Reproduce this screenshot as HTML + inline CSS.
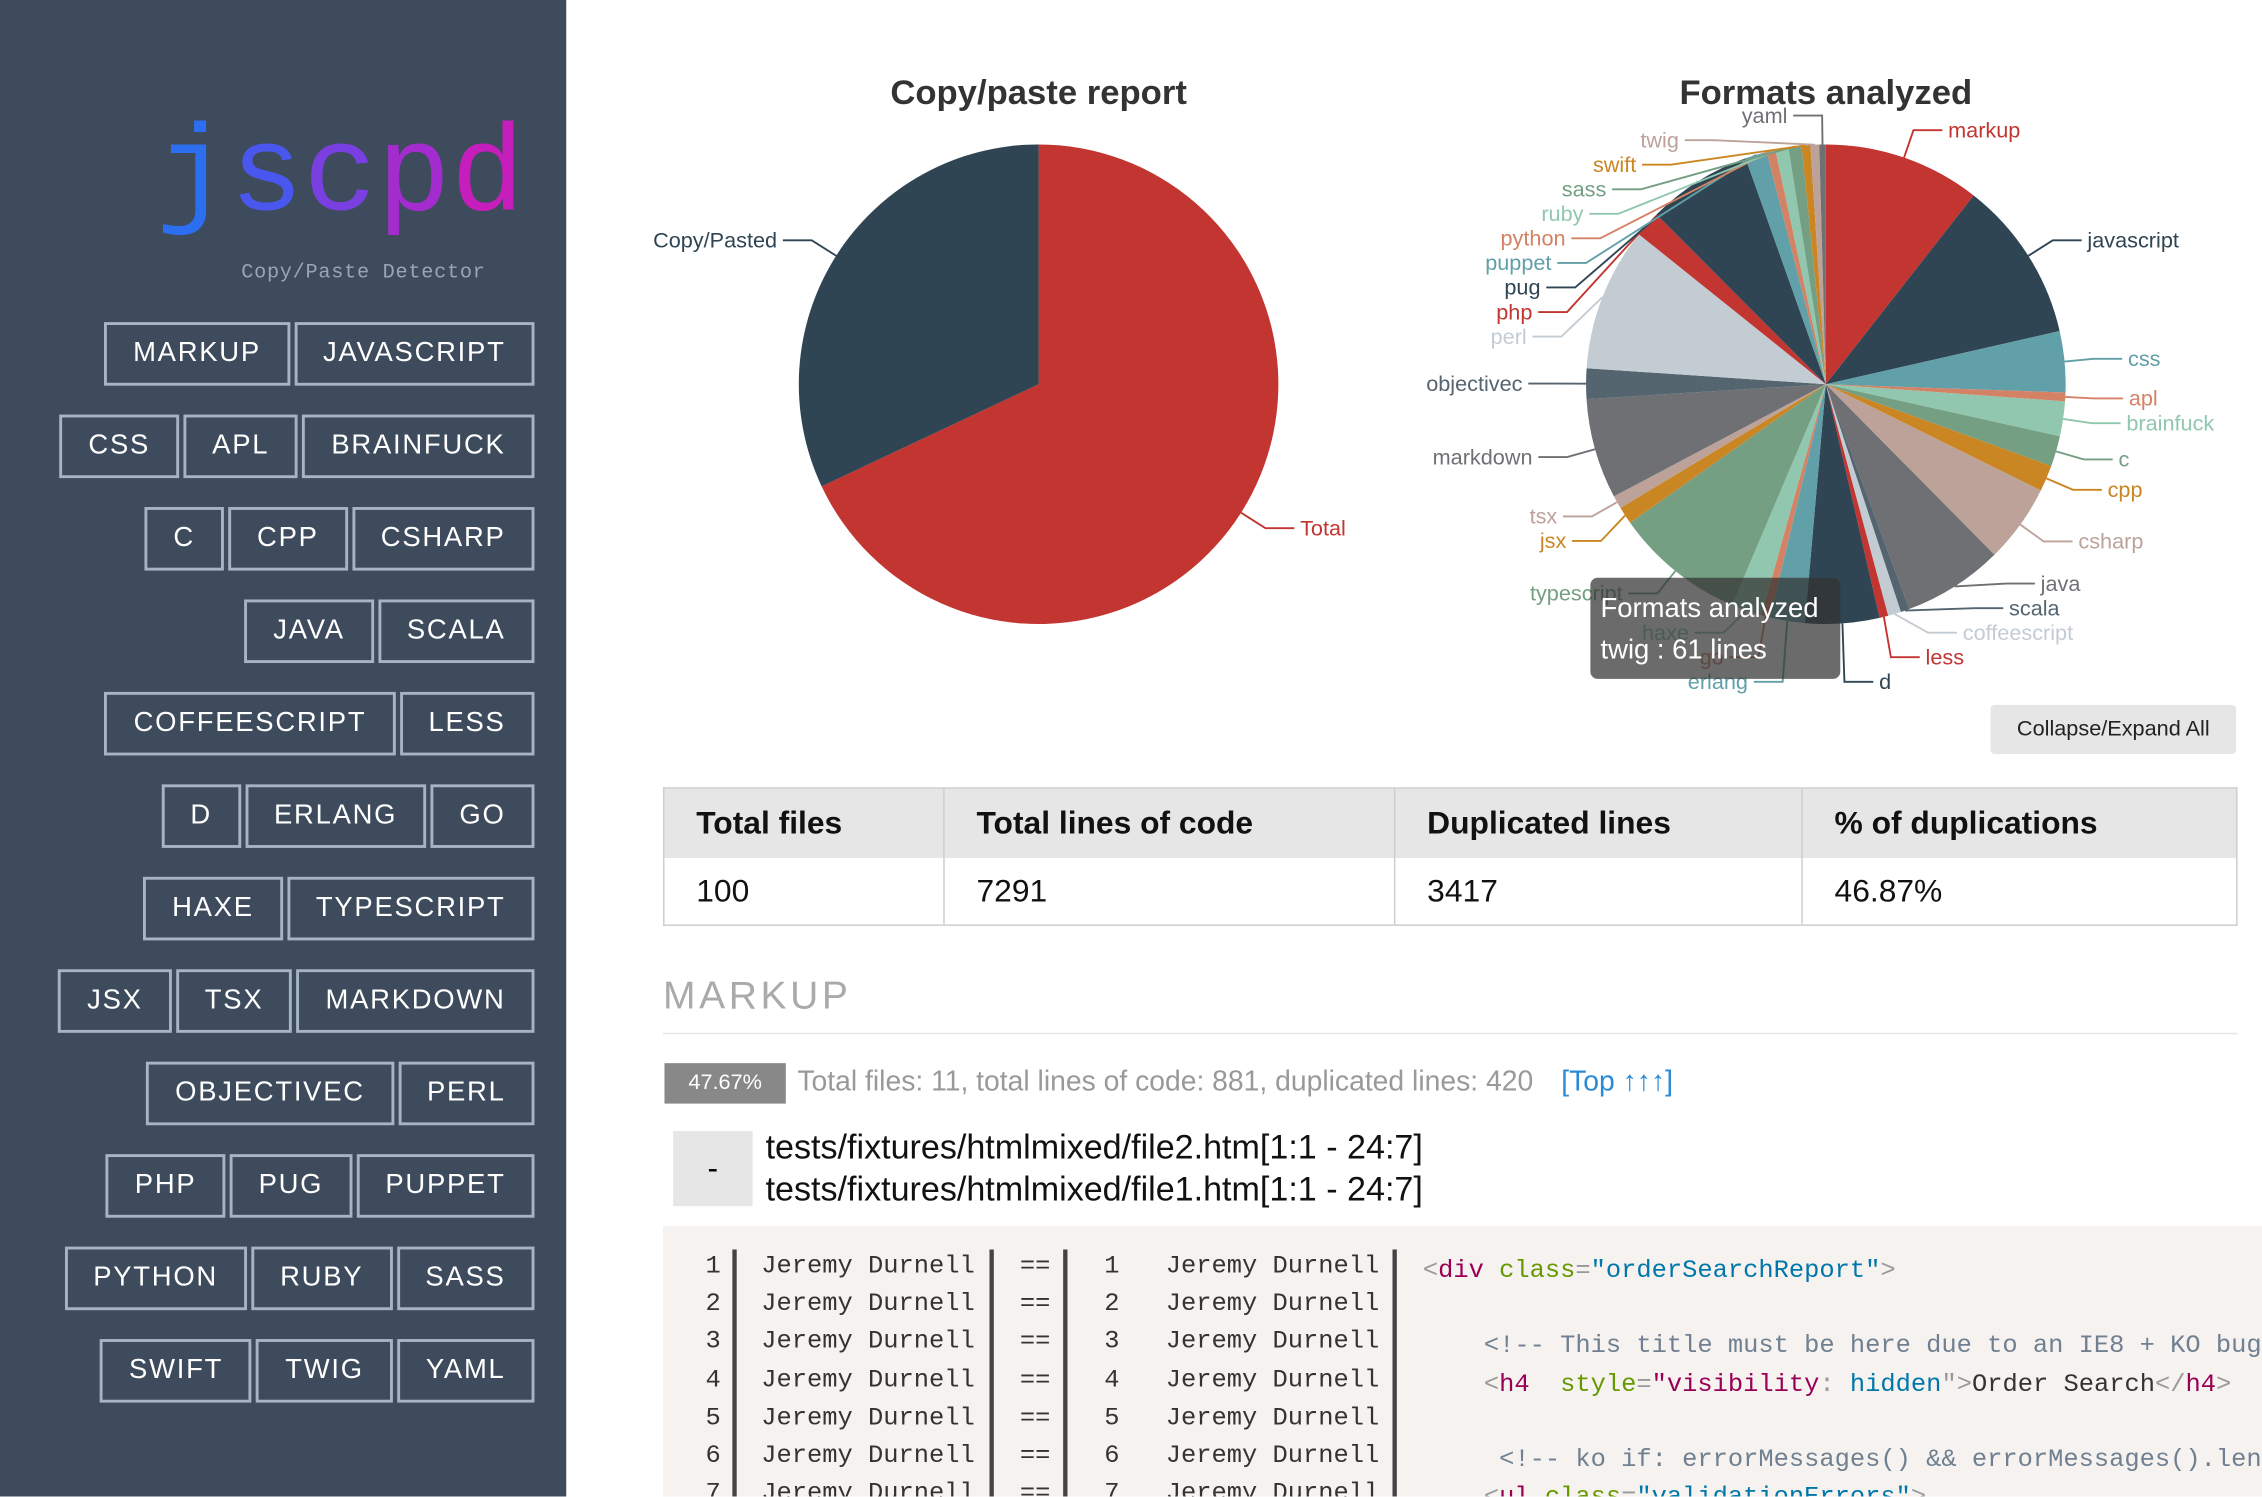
<!DOCTYPE html>
<html><head><meta charset="utf-8">
<style>
html,body{margin:0;padding:0;width:2262px;height:1496px;overflow:hidden;background:#fff;font-family:"Liberation Sans",sans-serif}
#root{position:absolute;left:0;top:0;width:1566px;height:1036px;transform:scale(1.4445);transform-origin:0 0;overflow:hidden}
#side{position:absolute;left:0;top:0;width:392px;height:1036px;background:#3d4b5c}
.logo{position:absolute;left:108px;top:80px;font-family:"Liberation Mono",monospace;font-size:85px;line-height:1;white-space:nowrap}
.sub{position:absolute;left:167px;top:181px;font-family:"Liberation Mono",monospace;font-size:14px;color:#9aa5b1;letter-spacing:0.5px}
.row{position:absolute;right:22px;display:flex;gap:3px}
.btn{height:40px;border:2px solid #a6b4c4;color:#fff;font-size:19px;letter-spacing:1.2px;line-height:40px;padding:0 18px;box-sizing:content-box}
.abs{position:absolute}
table{border-collapse:collapse}
.code{font-family:"Liberation Mono",monospace;font-size:17.6px;color:#333}
</style></head><body>
<div id="root">
<div id="side">
  <div class="logo"><span style="color:#2b6ff0">j</span><span style="color:#4a57ee">s</span><span style="color:#7a3fe0">c</span><span style="color:#a42ccf">p</span><span style="color:#c61dbd">d</span></div>
  <div class="sub">Copy/Paste Detector</div>
  <div id="rows"></div>
</div>

<svg class="abs" style="left:0;top:0" width="1566" height="1036" id="charts">
  <text x="719" y="72" text-anchor="middle" font-size="24" font-weight="bold" fill="#333">Copy/paste report</text>
  <g id="pie1"></g><g id="pie2"></g>
  <text x="1264" y="72" text-anchor="middle" font-size="24" font-weight="bold" fill="#333">Formats analyzed</text>
  <rect x="1101" y="400" width="173" height="70" rx="5" fill="rgba(50,50,50,0.72)"/>
  <text x="1108" y="427" font-size="19" fill="#fff">Formats analyzed</text>
  <text x="1108" y="456" font-size="19" fill="#fff">twig : 61 lines</text>
</svg>
<div class="abs" style="left:1378px;top:488px;width:170px;height:34px;background:#e6e6e6;border-radius:3px;font-size:15px;line-height:34px;text-align:center;color:#222">Collapse/Expand All</div>

<table class="abs" style="left:459px;top:545px;width:1090px;border:1px solid #ccc;font-size:22px">
<tr style="background:#e6e6e6;height:48px;font-weight:bold;color:#111">
<td style="width:170px;padding-left:22px;border-right:1px solid #ccc">Total files</td>
<td style="width:288px;padding-left:22px;border-right:1px solid #ccc">Total lines of code</td>
<td style="width:258px;padding-left:22px;border-right:1px solid #ccc">Duplicated lines</td>
<td style="padding-left:22px">% of duplications</td></tr>
<tr style="height:47px;color:#111">
<td style="padding-left:22px;border-right:1px solid #ccc">100</td>
<td style="padding-left:22px;border-right:1px solid #ccc">7291</td>
<td style="padding-left:22px;border-right:1px solid #ccc">3417</td>
<td style="padding-left:22px">46.87%</td></tr>
</table>

<div class="abs" style="left:459px;top:674px;font-size:27px;letter-spacing:2.5px;color:#aaa">MARKUP</div>
<div class="abs" style="left:459px;top:715px;width:1090px;height:1px;background:#e5e5e5"></div>
<div class="abs" style="left:460px;top:736px;width:84px;height:28px;background:#888;color:#fff;font-size:15px;line-height:28px;text-align:center">47.67%</div>
<div class="abs" style="left:552px;top:738px;font-size:19.6px;color:#999">Total files: 11, total lines of code: 881, duplicated lines: 420 <span style="color:#2a8ad6;margin-left:14px">[Top ↑↑↑]</span></div>
<div class="abs" style="left:466px;top:783px;width:55px;height:52px;background:#e6e6e6;font-size:22px;line-height:52px;text-align:center">-</div>
<div class="abs" style="left:530px;top:781px;font-size:23.6px;line-height:29px;color:#111">tests/fixtures/htmlmixed/file2.htm[1:1 - 24:7]<br>tests/fixtures/htmlmixed/file1.htm[1:1 - 24:7]</div>

<div class="abs code" style="left:459px;top:849px;width:1110px;height:200px;background:#f5f2f0">
 <div id="coderows"></div>
 <div class="abs" style="left:526px;top:18px;white-space:pre;line-height:26.2px"><span style="color:#999">&lt;</span><span style="color:#905">div</span> <span style="color:#690">class</span><span style="color:#999">=</span><span style="color:#07a">"orderSearchReport"</span><span style="color:#999">&gt;</span>

    <span style="color:#708090">&lt;!-- This title must be here due to an IE8 + KO bug</span>
    <span style="color:#999">&lt;</span><span style="color:#905">h4</span>  <span style="color:#690">style</span><span style="color:#999">=</span><span style="color:#905">"visibility</span><span style="color:#999">:</span> <span style="color:#07a">hidden</span><span style="color:#999">"&gt;</span>Order Search<span style="color:#999">&lt;/</span><span style="color:#905">h4</span><span style="color:#999">&gt;</span>

     <span style="color:#708090">&lt;!-- ko if: errorMessages() &amp;&amp; errorMessages().length</span>
    <span style="color:#999">&lt;</span><span style="color:#905">ul</span> <span style="color:#690">class</span><span style="color:#999">=</span><span style="color:#07a">"validationErrors"</span><span style="color:#999">&gt;</span></div>
</div>
</div>

<script>
const rowsData=[["MARKUP","JAVASCRIPT"],["CSS","APL","BRAINFUCK"],["C","CPP","CSHARP"],["JAVA","SCALA"],["COFFEESCRIPT","LESS"],["D","ERLANG","GO"],["HAXE","TYPESCRIPT"],["JSX","TSX","MARKDOWN"],["OBJECTIVEC","PERL"],["PHP","PUG","PUPPET"],["PYTHON","RUBY","SASS"],["SWIFT","TWIG","YAML"]];
const rowsEl=document.getElementById('rows');
rowsData.forEach((r,i)=>{
  const d=document.createElement('div');d.className='row';d.style.top=(223+i*64)+'px';
  
  
  r.forEach(t=>{const b=document.createElement('div');b.className='btn';b.textContent=t;
    
    
    d.appendChild(b);});
  rowsEl.appendChild(d);
});
const cr=document.getElementById('coderows');
for(let i=0;i<7;i++){
  const y=18+i*26.2;
  const h=`<div class="abs" style="top:${y}px;left:0;width:40px;text-align:right">${i+1}</div>
  <div class="abs" style="top:${y}px;left:68px">Jeremy Durnell</div>
  <div class="abs" style="top:${y}px;left:247px">==</div>
  <div class="abs" style="top:${y}px;left:280px;width:36px;text-align:right">${i+1}</div>
  <div class="abs" style="top:${y}px;left:348px">Jeremy Durnell</div>`;
  const w=document.createElement('div');w.innerHTML=h;
  
  
  cr.appendChild(w);
}
[48,226,277,505].forEach(x=>{const b=document.createElement('div');b.className='abs';b.style.cssText=`left:${x}px;top:16px;width:3px;height:200px;background:#444`;
  
  
  cr.appendChild(b);});
</script>
<script>
// Copy/paste report data
const cpLabels=["Total","Copy/Pasted"];
const cpValues=[68,32];
const cpColors=["#c23531","#2f4554"];
// Formats analyzed data
const fmtLabels=["markup","javascript","css","apl","brainfuck","c","cpp","csharp","java","scala","coffeescript","less","d","erlang","go","haxe","typescript","jsx","tsx","markdown","objectivec","perl","php","pug","puppet","python","ruby","sass","swift","twig","yaml"];
const fmtValues=[36,37,14,2,8,7,6,18,23,2,3,2,17,8,2,7,30,4,3,23,7,33,6,24,5,2,3,3,2,2,1.5];
const palette=["#c23531","#2f4554","#61a0a8","#d48265","#91c7ae","#749f83","#ca8622","#bda29a","#6e7074","#546570","#c4ccd3"];
const NS="http://www.w3.org/2000/svg";
function el(tag,attrs,parent){const e=document.createElementNS(NS,tag);for(const k in attrs)e.setAttribute(k,attrs[k]);parent.appendChild(e);return e;}
function pt(cx,cy,r,a){return [cx+r*Math.sin(a),cy-r*Math.cos(a)];}
function drawPie(g,cx,cy,r,labels,values,colors,gap){
  const tot=values.reduce((a,b)=>a+b,0);let acc=0;const labs=[];
  values.forEach((v,i)=>{
    const a0=acc/tot*2*Math.PI,a1=(acc+v)/tot*2*Math.PI;acc+=v;
    const p0=pt(cx,cy,r,a0),p1=pt(cx,cy,r,a1);
    const large=(a1-a0)>Math.PI?1:0;
    const col=colors[i%colors.length];
    const s=el('path',{d:`M${cx},${cy}L${p0[0]},${p0[1]}A${r},${r} 0 ${large} 1 ${p1[0]},${p1[1]}Z`,fill:col},g);
    
    
    const am=(a0+a1)/2;const q=pt(cx,cy,r,am),q2=pt(cx,cy,r+20,am);
    labs.push({i,col,q,q2,right:Math.sin(am)>=0,y:q2[1]});
  });
  // avoid overlap per side
  [true,false].forEach(side=>{
    const L=labs.filter(l=>l.right===side).sort((a,b)=>a.y-b.y);
    for(let k=1;k<L.length;k++) if(L[k].y<L[k-1].y+gap) L[k].y=L[k-1].y+gap;
    const maxY=cy+r+40;
    if(L.length&&L[L.length-1].y>maxY){L[L.length-1].y=maxY;for(let k=L.length-2;k>=0;k--) if(L[k].y>L[k+1].y-gap) L[k].y=L[k+1].y-gap;}
  });
  labs.forEach(l=>{
    const R=r+20;const dy=l.y-cy;
    const dx=Math.abs(dy)<R?Math.sqrt(R*R-dy*dy):0;
    let ex=l.right?Math.max(cx+dx,l.q2[0]):Math.min(cx-dx,l.q2[0]);
    const x3=ex+(l.right?20:-20);
    const ln=el('polyline',{points:`${l.q[0]},${l.q[1]} ${ex},${l.y} ${x3},${l.y}`,fill:'none',stroke:l.col,'stroke-width':1.3},g);
    
    
    const t=el('text',{x:x3+(l.right?4:-4),y:l.y+5,'text-anchor':l.right?'start':'end','font-size':15,fill:l.col},g);
    t.textContent=labels[l.i];
    
    
  });
}
drawPie(document.getElementById('pie1'),719,266,166,cpLabels,cpValues,cpColors,17);
drawPie(document.getElementById('pie2'),1264,266,166,fmtLabels,fmtValues,palette,17);
</script>
</body></html>
